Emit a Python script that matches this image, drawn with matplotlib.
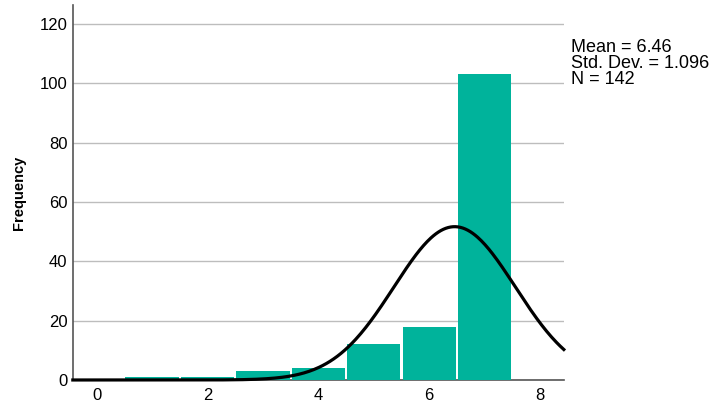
import numpy as np
import matplotlib.pyplot as plt

plt.rcParams['font.family'] = ['Liberation Sans', 'DejaVu Sans']

# histogram data (bins of width 1 centred on integers)
bin_centers = [1, 2, 3, 4, 5, 6, 7]
counts = [1, 1, 3, 4, 12, 18, 103]
mean = 6.46
std = 1.096
n_total = 142

bar_color = '#00b39b'

fig = plt.figure(figsize=(7.21, 4.12), dpi=100)
ax = fig.add_axes([0.101, 0.0777, 0.681, 0.910])

ax.bar(bin_centers, counts, width=0.96, color=bar_color,
       linewidth=0, zorder=3)

# normal curve scaled to counts
x = np.linspace(-0.43, 8.43, 400)
y = n_total * 1.0 / (std * np.sqrt(2 * np.pi)) * np.exp(-0.5 * ((x - mean) / std) ** 2)
ax.plot(x, y, color='black', linewidth=2.3, zorder=4, clip_on=False)

ax.set_xlim(-0.43, 8.43)
ax.set_ylim(0, 126.4)
ax.set_xticks([0, 2, 4, 6, 8])
ax.set_yticks([0, 20, 40, 60, 80, 100, 120])
ax.tick_params(length=0, labelsize=12)
ax.tick_params(axis='y', pad=4)
ax.tick_params(axis='x', pad=6)
ax.yaxis.grid(True, color='#bdbdbd', linewidth=1, zorder=0)
ax.set_axisbelow(True)

for side in ['top', 'right']:
    ax.spines[side].set_visible(False)
for side in ['left', 'bottom']:
    ax.spines[side].set_color('#555555')
    ax.spines[side].set_linewidth(1.2)

ax.set_ylabel('Frequency', fontsize=10.5, fontweight='bold', labelpad=10)

fig.text(0.792, 0.905, f'Mean = {mean:.2f}\nStd. Dev. = {std:.3f}\nN = {n_total}',
         fontsize=13, va='top', ha='left', linespacing=0.9)

fig.savefig('out.png', dpi=100)
